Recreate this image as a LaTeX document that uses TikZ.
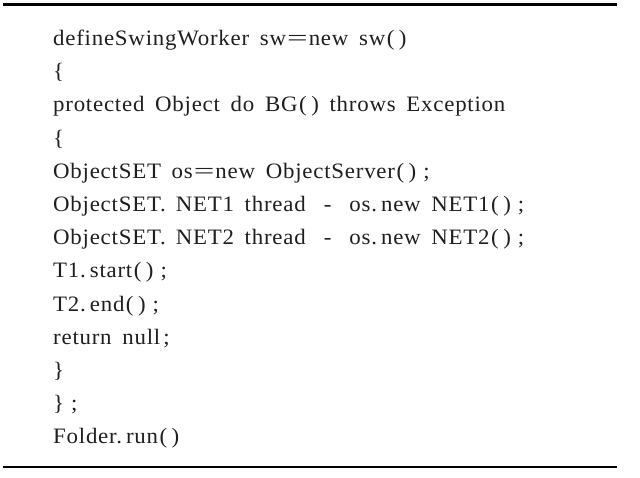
\documentclass[tikz,border=0pt]{standalone}
\usepackage{fontspec}
\setmainfont{Liberation Serif}[LetterSpace=3.5, FakeStretch=1.04, WordSpace=1.65]
\newcommand{\eqs}{\kern1pt\scalebox{1.6}[1]{=}\kern1pt}
\newcommand{\pp}{\kern1.5pt(\kern4.5pt)}
\newcommand{\semi}{\kern7pt;}
\newcommand{\dtw}{.\kern10pt}
\newcommand{\dt}{.\kern4pt}
\begin{document}
\begin{tikzpicture}[x=1pt,y=-1pt,
  codeline/.style={anchor=base west, inner sep=0pt, font=\fontsize{22}{26}\selectfont, text=black!88},
  rule/.style={line width=2.6pt, black}]
\useasboundingbox[fill=white] (0,0) rectangle (640,477);
\coordinate (tl) at (3,4.7);
\coordinate (tr) at (617,4.7);
\coordinate (bl) at (3,467);
\coordinate (br) at (617,467);
\draw[rule] (tl) -- (tr);
\draw[rule] (bl) -- (br);
\node[codeline] (l1) at (53,45.5) {defineSwingWorker sw\eqs new sw\pp};
\node[codeline] (l2) at (53,78.7) {\{};
\node[codeline] (l3) at (53,111.9) {protected Object do BG\pp\ throws Exception};
\node[codeline] (l4) at (53,145.1) {\{};
\node[codeline] (l5) at (53,178.3) {ObjectSET os\eqs new ObjectServer\pp\semi};
\node[codeline] (l6) at (53,211.5) {ObjectSET\dtw NET1 thread \,\,-\,\, os\dt new NET1\pp\semi};
\node[codeline] (l7) at (53,244.7) {ObjectSET\dtw NET2 thread \,\,-\,\, os\dt new NET2\pp\semi};
\node[codeline] (l8) at (53,277.9) {T1\dt start\pp\semi};
\node[codeline] (l9) at (53,311.1) {T2\dt end\pp\semi};
\node[codeline] (l10) at (53,344.3) {return null\kern3pt;};
\node[codeline] (l11) at (53,377.5) {\}};
\node[codeline] (l12) at (53,410.7) {\}\semi};
\node[codeline] (l13) at (53,443.9) {Folder\dt run\pp};
\end{tikzpicture}
\end{document}
